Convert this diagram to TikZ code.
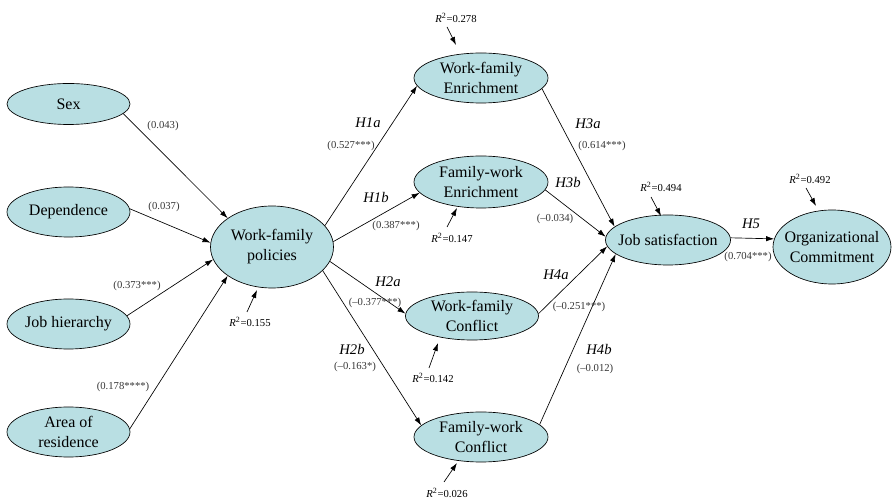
\documentclass[tikz,border=0pt]{standalone}
\usepackage{fontspec}
\setmainfont{Liberation Serif}
\usetikzlibrary{shapes.geometric,arrows.meta}
\definecolor{ellfill}{RGB}{185,223,227}
\definecolor{coef}{RGB}{55,55,55}
\begin{document}
\begin{tikzpicture}[x=0.75pt,y=-0.75pt,
  ell/.style={ellipse,draw=black,line width=0.5pt,fill=ellfill,inner sep=0pt},
  txt/.style={align=center,font=\fontsize{12}{15}\selectfont,inner sep=0pt},
  hyp/.style={font=\fontsize{11}{13}\selectfont\itshape,inner sep=0pt},
  coefl/.style={font=\fontsize{8}{9}\selectfont,text=coef,inner sep=0pt},
  rsq/.style={font=\fontsize{8}{9}\selectfont,inner sep=0pt},
  arr/.style={-{Latex[length=6pt,width=4pt]},line width=0.5pt}]
\useasboundingbox[fill=white] (0,0) rectangle (892,498);

% ellipses
\node[ell,minimum width=92.25pt,minimum height=30.75pt,label={[txt]center:Sex}] (sex) at (68.5,104) {};
\node[ell,minimum width=92.25pt,minimum height=37.5pt,label={[txt]center:Dependence}] (dep) at (68.5,212) {};
\node[ell,minimum width=92.25pt,minimum height=37.5pt,label={[txt]center:Job hierarchy}] (job) at (68.5,324) {};
\node[ell,minimum width=92.25pt,minimum height=37.5pt,label={[txt]center:{Area of\\residence}}] (area) at (68.5,432) {};
\node[ell,minimum width=92.25pt,minimum height=61.5pt,label={[txt]center:{Work-family\\policies}}] (wfp) at (272,247) {};
\node[ell,minimum width=100.5pt,minimum height=37.5pt,label={[txt]center:{Work-family\\Enrichment}}] (wfe) at (481,78) {};
\node[ell,minimum width=100.5pt,minimum height=39pt,label={[txt]center:{Family-work\\Enrichment}}] (fwe) at (481,182) {};
\node[ell,minimum width=99.75pt,minimum height=36pt,label={[txt]center:{Work-family\\Conflict}}] (wfc) at (472,316) {};
\node[ell,minimum width=100.5pt,minimum height=37.5pt,label={[txt]center:{Family-work\\Conflict}}] (fwc) at (481,437) {};
\node[ell,minimum width=93.75pt,minimum height=37.5pt,label={[txt]center:Job satisfaction}] (js) at (668,240) {};
\node[ell,minimum width=88.5pt,minimum height=55.5pt,label={[txt]center:{Organizational\\Commitment}}] (oc) at (832,247) {};

% paths
\draw[arr] (sex.-10) -- (wfp.147);
\draw[arr] (dep.3) -- (wfp.176);
\draw[arr] (job.8) -- (wfp.192);
\draw[arr] (area.3) -- (wfp.213);
\draw[arr] (wfp.22) -- (wfe.187);
\draw[arr] (wfp.5) -- (fwe.190);
\draw[arr] (wfp.-14) -- (wfc.178);
\draw[arr] (wfp.-25) -- (fwc.169);
\draw[arr] (wfe.-10) -- (js.166);
\draw[arr] (fwe.-7) -- (js.177);
\draw[arr] (wfc.2) -- (js.186);
\draw[arr] (fwc.12) -- (js.195);
\draw[arr] (js.2) -- (oc.172);

% coefficient labels
\node[coefl] (c1) at (163,126) {(0.043)};
\node[coefl] (c2) at (164,207) {(0.037)};
\node[coefl] (c3) at (137,286) {(0.373***)};
\node[coefl] (c4) at (123,387) {(0.178****)};
\node[hyp] (h1a) at (368,123) {H1a};
\node[coefl] (c5) at (351,146) {(0.527***)};
\node[hyp] (h1b) at (376,197) {H1b};
\node[coefl] (c6) at (396,226) {(0.387***)};
\node[hyp] (h2a) at (388,282) {H2a};
\node[coefl] (c7) at (375,303) {(–0.377***)};
\node[hyp] (h2b) at (352,349) {H2b};
\node[coefl] (c8) at (355,367) {(–0.163*)};
\node[hyp] (h3a) at (588,124) {H3a};
\node[coefl] (c9) at (602,146) {(0.614***)};
\node[hyp] (h3b) at (568,182) {H3b};
\node[coefl] (c10) at (555,219) {(–0.034)};
\node[hyp] (h4a) at (556,275) {H4a};
\node[coefl] (c11) at (579,307) {(–0.251***)};
\node[hyp] (h4b) at (599,349) {H4b};
\node[coefl] (c12) at (595,369) {(–0.012)};
\node[hyp] (h5) at (751,224) {H5};
\node[coefl] (c13) at (748,257) {(0.704***)};

% R squared
\node[rsq] (r155) at (250,322) {{\itshape R}\textsuperscript{2}=0.155};
\node[rsq] (r278) at (456,18) {{\itshape R}\textsuperscript{2}=0.278};
\node[rsq] (r147) at (452,238) {{\itshape R}\textsuperscript{2}=0.147};
\node[rsq] (r142) at (433,378) {{\itshape R}\textsuperscript{2}=0.142};
\node[rsq] (r026) at (447,493) {{\itshape R}\textsuperscript{2}=0.026};
\node[rsq] (r494) at (661,187) {{\itshape R}\textsuperscript{2}=0.494};
\node[rsq] (r492) at (810,179) {{\itshape R}\textsuperscript{2}=0.492};

\coordinate (a155s) at (247,312); \coordinate (a155e) at (257,290);
\coordinate (a278s) at (447,27);  \coordinate (a278e) at (456,45);
\coordinate (a147s) at (447,227); \coordinate (a147e) at (457,208);
\coordinate (a142s) at (429,368); \coordinate (a142e) at (438,343);
\coordinate (a026s) at (444,482); \coordinate (a026e) at (457,463);
\coordinate (a494s) at (651,197); \coordinate (a494e) at (661,216);
\coordinate (a492s) at (806,188); \coordinate (a492e) at (816,206);
\draw[arr] (a155s) -- (a155e);
\draw[arr] (a278s) -- (a278e);
\draw[arr] (a147s) -- (a147e);
\draw[arr] (a142s) -- (a142e);
\draw[arr] (a026s) -- (a026e);
\draw[arr] (a494s) -- (a494e);
\draw[arr] (a492s) -- (a492e);
\end{tikzpicture}
\end{document}
